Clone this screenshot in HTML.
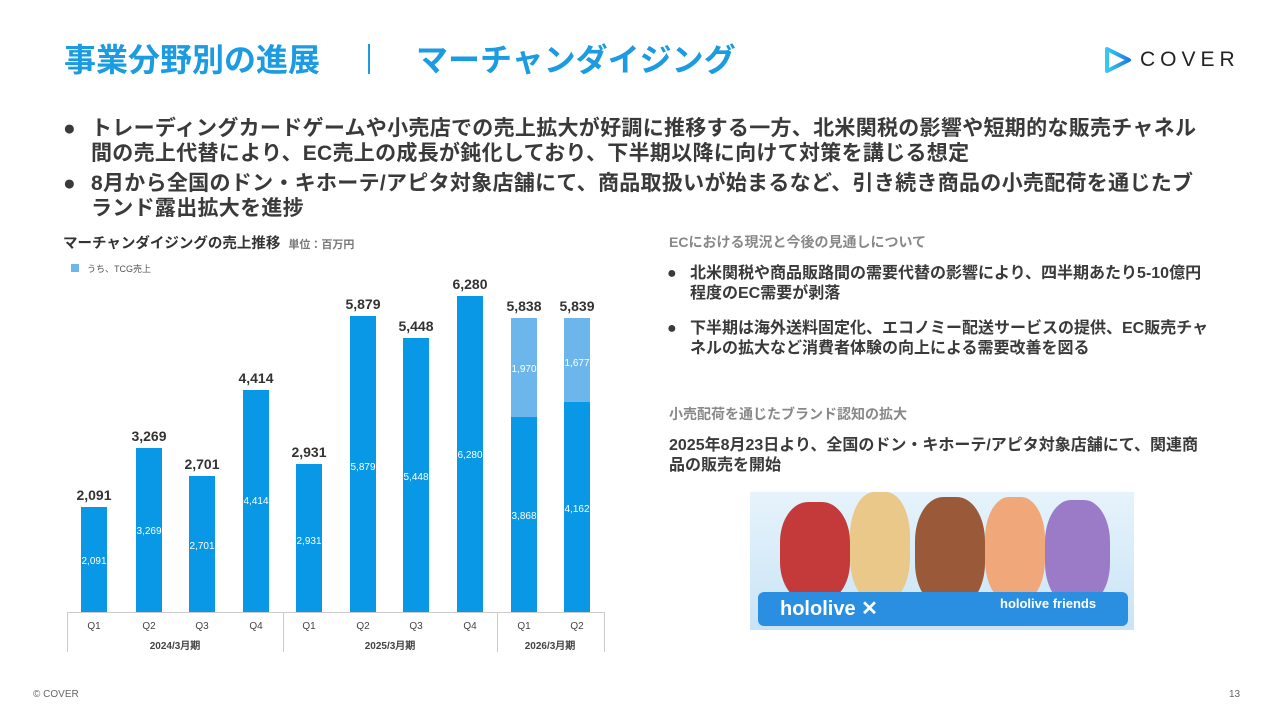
<!DOCTYPE html>
<html><head><meta charset="utf-8"><style>
body{margin:0;width:1278px;height:718px;background:#fff;position:relative;overflow:hidden;font-family:"Liberation Sans","Noto Sans CJK JP",sans-serif;color:#333}
.a{position:absolute;white-space:nowrap}
.t{color:#1a9be2;font-weight:bold;font-size:32px;top:35px}
.b{font-size:21px;font-weight:bold;color:#3a3a3a;line-height:25px;letter-spacing:0.3px}
.s{font-size:16px;font-weight:bold;color:#3a3a3a;line-height:20px}
.g{font-size:14px;font-weight:bold;color:#888}
</style></head><body>
<div class="a t" style="left:64px">事業分野別の進展</div>
<div class="a" style="left:368px;top:44px;width:2px;height:30px;background:#1a9be2"></div>
<div class="a t" style="left:416px">マーチャンダイジング</div>
<svg class="a" style="left:1103px;top:46px" width="30" height="28" viewBox="0 0 30 28"><defs><linearGradient id="lg" x1="0" x2="1"><stop offset="0" stop-color="#38c8f0"/><stop offset="1" stop-color="#1a7fe0"/></linearGradient></defs><path d="M4 3 L26 14 L4 25 Z" fill="none" stroke="url(#lg)" stroke-width="4" stroke-linejoin="round"/></svg>
<div class="a" style="left:1140px;top:48px;font-size:21px;letter-spacing:5px;color:#222">COVER</div>

<div class="a b" style="left:63px;top:116px">●</div>
<div class="a b" style="left:91px;top:116px">トレーディングカードゲームや小売店での売上拡大が好調に推移する一方、北米関税の影響や短期的な販売チャネル<br>間の売上代替により、EC売上の成長が鈍化しており、下半期以降に向けて対策を講じる想定</div>
<div class="a b" style="left:63px;top:171px">●</div>
<div class="a b" style="left:91px;top:171px">8月から全国のドン・キホーテ/アピタ対象店舗にて、商品取扱いが始まるなど、引き続き商品の小売配荷を通じたブ<br>ランド露出拡大を進捗</div>

<div class="a" style="left:63px;top:232px;font-size:14.5px;font-weight:bold;color:#333">マーチャンダイジングの売上推移 <span style="font-size:11px;color:#777;margin-left:4px">単位：百万円</span></div>
<div class="a" style="left:71px;top:264px;width:8px;height:8px;background:#6cb6ec"></div>
<div class="a" style="left:87px;top:262px;font-size:9px;color:#555">うち、TCG売上</div>

<svg class="a" style="left:0;top:0" width="640" height="718" font-family="Liberation Sans, sans-serif">
<line x1="67" y1="612.5" x2="604" y2="612.5" stroke="#ccc"/>
<g stroke="#ccc"><line x1="67.5" y1="612" x2="67.5" y2="652"/><line x1="283.5" y1="612" x2="283.5" y2="652"/><line x1="497.5" y1="612" x2="497.5" y2="652"/><line x1="604.5" y1="612" x2="604.5" y2="652"/></g>
<g font-size="10" fill="#444" text-anchor="middle">
<text x="94" y="629">Q1</text><text x="149" y="629">Q2</text><text x="202" y="629">Q3</text><text x="256" y="629">Q4</text><text x="309" y="629">Q1</text><text x="363" y="629">Q2</text><text x="416" y="629">Q3</text><text x="470" y="629">Q4</text><text x="524" y="629">Q1</text><text x="577" y="629">Q2</text>
<text x="175" y="649" font-weight="bold">2024/3月期</text><text x="390" y="649" font-weight="bold">2025/3月期</text><text x="550" y="649" font-weight="bold">2026/3月期</text>
</g>
<g fill="#0898e6">
<rect x="81" y="507" width="26" height="105"/><rect x="136" y="448" width="26" height="164"/><rect x="189" y="476" width="26" height="136"/><rect x="243" y="390" width="26" height="222"/>
<rect x="296" y="464" width="26" height="148"/><rect x="350" y="316" width="26" height="296"/><rect x="403" y="338" width="26" height="274"/><rect x="457" y="296" width="26" height="316"/>
<rect x="511" y="417" width="26" height="195"/><rect x="564" y="402" width="26" height="210"/>
</g>
<g fill="#6cb6ec"><rect x="511" y="318" width="26" height="99"/><rect x="564" y="318" width="26" height="84"/></g>
<g font-size="14" font-weight="bold" fill="#333" text-anchor="middle">
<text x="94" y="500">2,091</text><text x="149" y="441">3,269</text><text x="202" y="469">2,701</text><text x="256" y="383">4,414</text><text x="309" y="457">2,931</text><text x="363" y="309">5,879</text><text x="416" y="331">5,448</text><text x="470" y="289">6,280</text><text x="524" y="311">5,838</text><text x="577" y="311">5,839</text>
</g>
<g font-size="10" fill="#fff" text-anchor="middle">
<text x="94" y="564">2,091</text><text x="149" y="534">3,269</text><text x="202" y="549">2,701</text><text x="256" y="504">4,414</text><text x="309" y="544">2,931</text><text x="363" y="470">5,879</text><text x="416" y="480">5,448</text><text x="470" y="458">6,280</text><text x="524" y="519">3,868</text><text x="577" y="512">4,162</text><text x="524" y="372">1,970</text><text x="577" y="366">1,677</text>
</g>
</svg>

<div class="a g" style="left:669px;top:232px">ECにおける現況と今後の見通しについて</div>
<div class="a s" style="left:667px;top:264px">●</div>
<div class="a s" style="left:690px;top:264px">北米関税や商品販路間の需要代替の影響により、四半期あたり5-10億円<br>程度のEC需要が剥落</div>
<div class="a s" style="left:667px;top:319px">●</div>
<div class="a s" style="left:690px;top:319px">下半期は海外送料固定化、エコノミー配送サービスの提供、EC販売チャ<br>ネルの拡大など消費者体験の向上による需要改善を図る</div>
<div class="a g" style="left:669px;top:404px">小売配荷を通じたブランド認知の拡大</div>
<div class="a s" style="left:669px;top:436px">2025年8月23日より、全国のドン・キホーテ/アピタ対象店舗にて、関連商<br>品の販売を開始</div>

<div class="a" style="left:750px;top:492px;width:384px;height:138px;background:linear-gradient(180deg,#e6f3fb,#c9e4f6);overflow:hidden">
<div class="a" style="left:30px;top:10px;width:70px;height:100px;border-radius:40%;background:#c43a3a"></div>
<div class="a" style="left:100px;top:0px;width:60px;height:110px;border-radius:40%;background:#e9c88a"></div>
<div class="a" style="left:165px;top:5px;width:70px;height:110px;border-radius:40%;background:#9a5a3a"></div>
<div class="a" style="left:235px;top:5px;width:60px;height:105px;border-radius:40%;background:#f0a87a"></div>
<div class="a" style="left:295px;top:8px;width:65px;height:105px;border-radius:40%;background:#9b7bc8"></div>
<div class="a" style="left:8px;top:100px;width:370px;height:34px;background:#2a8fe0;border-radius:6px"></div>
<div class="a" style="left:30px;top:104px;font-size:20px;font-weight:bold;color:#fff">hololive ✕</div>
<div class="a" style="left:250px;top:104px;font-size:13px;font-weight:bold;color:#fff">hololive friends</div>
</div>

<div class="a" style="left:33px;top:689px;font-size:10px;color:#666">© COVER</div>
<div class="a" style="left:1229px;top:689px;font-size:10px;color:#666">13</div>
</body></html>
